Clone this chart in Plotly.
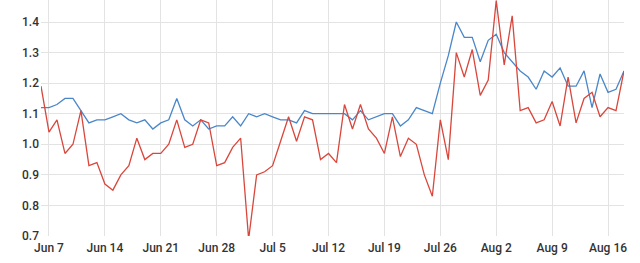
import pandas as pd
import plotly.graph_objects as go

start_date = "2021-06-06"
end_date = "2021-08-18"

blue_values = [
    1.12, 1.12, 1.13, 1.15, 1.15, 1.11, 1.07, 1.08, 1.08, 1.09,
    1.10, 1.08, 1.07, 1.08, 1.05, 1.07, 1.08, 1.15, 1.08, 1.06,
    1.08, 1.05, 1.06, 1.06, 1.09, 1.06, 1.10, 1.09, 1.10, 1.09,
    1.08, 1.08, 1.07, 1.11, 1.10, 1.10, 1.10, 1.10, 1.10, 1.08,
    1.11, 1.08, 1.09, 1.10, 1.10, 1.06, 1.08, 1.12, 1.11, 1.10,
    1.20, 1.29, 1.40, 1.35, 1.35, 1.27, 1.34, 1.36, 1.30, 1.27,
    1.24, 1.22, 1.18, 1.24, 1.22, 1.25, 1.19, 1.19, 1.24, 1.12,
    1.23, 1.17, 1.18, 1.24,
]

red_values = [
    1.19, 1.04, 1.08, 0.97, 1.00, 1.11, 0.93, 0.94, 0.87, 0.85,
    0.90, 0.93, 1.02, 0.95, 0.97, 0.97, 1.00, 1.08, 0.99, 1.00,
    1.08, 1.07, 0.93, 0.94, 0.99, 1.02, 0.69, 0.90, 0.91, 0.93,
    1.01, 1.09, 1.01, 1.09, 1.08, 0.95, 0.97, 0.94, 1.13, 1.05,
    1.13, 1.05, 1.02, 0.97, 1.09, 0.96, 1.02, 1.00, 0.90, 0.83,
    1.08, 0.95, 1.30, 1.22, 1.31, 1.16, 1.21, 1.47, 1.26, 1.42,
    1.11, 1.12, 1.07, 1.08, 1.14, 1.06, 1.22, 1.07, 1.15, 1.17,
    1.09, 1.12, 1.11, 1.24,
]

y_ticks = [0.7, 0.8, 0.9, 1.0, 1.1, 1.2, 1.3, 1.4]

dates = pd.date_range(start_date, end_date, freq="D")

fig = go.Figure()
fig.add_trace(go.Scatter(x=dates, y=blue_values, mode="lines",
                         line=dict(color="#4a87c9", width=1.3), showlegend=False))
fig.add_trace(go.Scatter(x=dates, y=red_values, mode="lines",
                         line=dict(color="#d9473c", width=1.3), showlegend=False))

font = dict(family="Roboto", size=12, color="#333333", weight=500)

fig.update_layout(
    width=640, height=263,
    margin=dict(l=41, r=16, t=0, b=27),
    paper_bgcolor="white", plot_bgcolor="white",
    font=font,
)
fig.update_xaxes(
    range=[dates[0], dates[-1]],
    tick0="2021-06-07", dtick=7 * 24 * 3600 * 1000,
    tickformat="%b %-d",
    showgrid=True, gridcolor="#e3e3e3", gridwidth=1,
    zeroline=False, showline=False, ticks="",
    tickfont=font, ticklabelstandoff=3,
)
fig.update_yaxes(
    range=[0.7, 1.472],
    tickvals=y_ticks, ticktext=[f"{v:.1f}" for v in y_ticks],
    showgrid=True, gridcolor="#e3e3e3", gridwidth=1,
    zeroline=False, showline=False, ticks="",
    tickfont=font, ticklabelstandoff=1,
)

fig.write_html("out.html")
